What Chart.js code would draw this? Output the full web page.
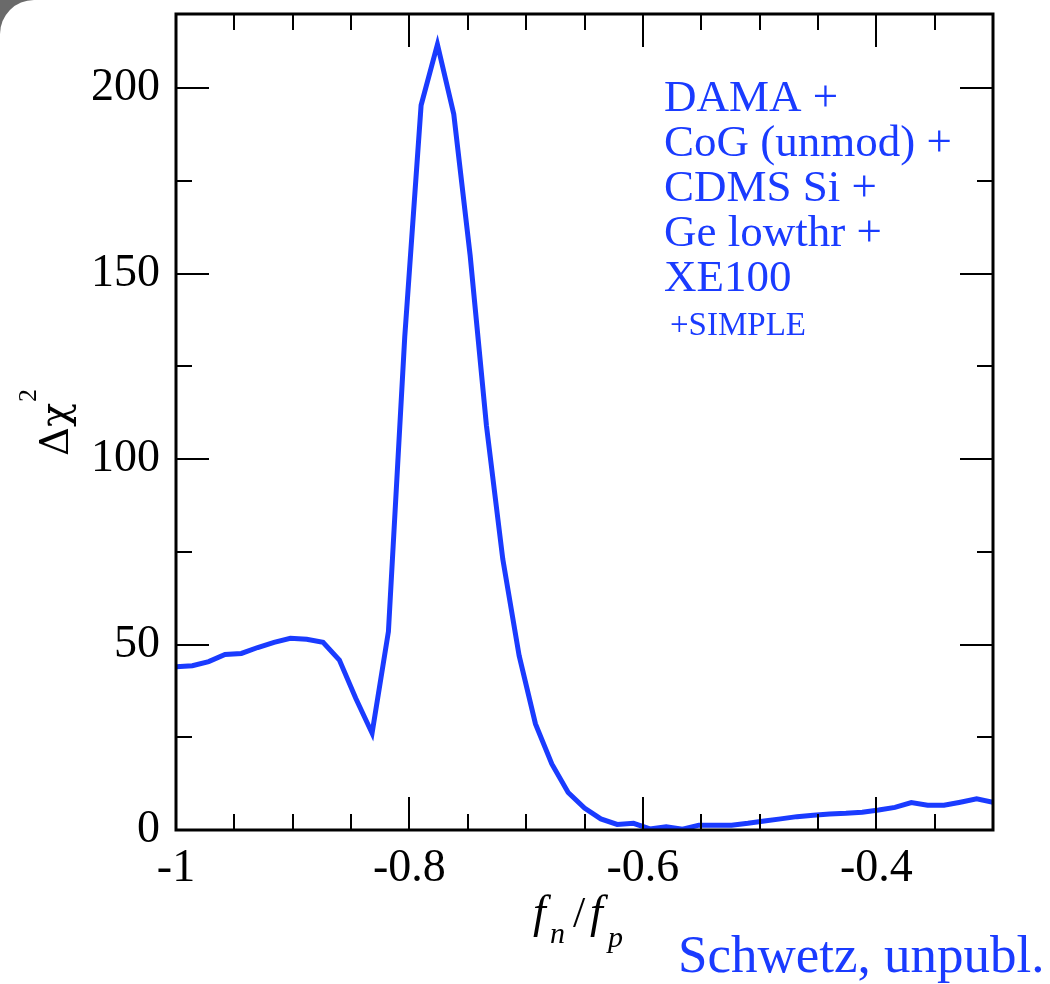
<!DOCTYPE html>
<html>
<head>
<meta charset="utf-8">
<title>Delta chi2 vs fn/fp</title>
<script src="https://cdn.jsdelivr.net/npm/chart.js@4"></script>
<style>
  html, body { margin: 0; padding: 0; }
  body { width: 1050px; height: 984px; overflow: hidden; position: relative; background: #6a6a6a; }
  #page { position: absolute; left: 0; top: 0; width: 1100px; height: 1040px; background: #fff; border-top-left-radius: 34px; }
  #c { position: absolute; left: 0; top: 0; }
</style>
</head>
<body>
<div id="page"></div>
<canvas id="c" width="1050" height="984"></canvas>
<script>
// f_n / f_p scan points
const fnOverFp = [
  -1, -0.986, -0.972, -0.958, -0.944, -0.93, -0.916, -0.902, -0.888, -0.874,
  -0.86, -0.846, -0.832, -0.818, -0.804, -0.79, -0.776, -0.762, -0.748, -0.734,
  -0.72, -0.706, -0.692, -0.678, -0.664, -0.65, -0.636, -0.622, -0.608, -0.594,
  -0.58, -0.566, -0.552, -0.538, -0.524, -0.51, -0.496, -0.482, -0.468, -0.454,
  -0.44, -0.426, -0.412, -0.398, -0.384, -0.37, -0.356, -0.342, -0.328, -0.314,
  -0.3
];

// combined Delta chi^2 at each point
const deltaChi2 = [
  44.0, 44.3, 45.4, 47.3, 47.6, 49.2, 50.6, 51.7, 51.4, 50.6,
  45.8, 35.5, 26.1, 53.5, 133, 195.4, 211.8, 193, 155, 109,
  73, 47, 28.6, 17.8, 10.1, 5.9, 3.0, 1.5, 1.8, 0.3,
  0.9, 0.2, 1.3, 1.3, 1.3, 1.8, 2.4, 3.0, 3.6, 4.0,
  4.3, 4.5, 4.8, 5.4, 6.1, 7.4, 6.7, 6.7, 7.5, 8.4,
  7.5
];

const xTicks = [-1, -0.8, -0.6, -0.4];
const yTicks = [0, 50, 100, 150, 200];

const fitLabels = ['DAMA +', 'CoG (unmod) +', 'CDMS Si +', 'Ge lowthr +', 'XE100'];
const fitExtra = '+SIMPLE';
const creditText = 'Schwetz, unpubl.';

const BLUE = '#1a3bff';
const SERIF = '"Liberation Serif", "DejaVu Serif", serif';
const GREEK = '"DejaVu Serif", serif';

// box, inward ticks on all four sides, axis titles and the text block
const framePlugin = {
  id: 'frame',
  afterDraw(chart) {
    const { ctx, chartArea: a, scales: { x, y } } = chart;
    ctx.save();

    ctx.strokeStyle = '#000';
    ctx.lineWidth = 2;
    ctx.beginPath();
    for (let i = 0; i <= 14; i++) {
      const v = -1 + i * 0.05;
      const major = i % 4 === 0;
      const len = major ? 33 : 16;
      const px = Math.round(x.getPixelForValue(v));
      ctx.moveTo(px, a.bottom); ctx.lineTo(px, a.bottom - len);
      ctx.moveTo(px, a.top); ctx.lineTo(px, a.top + len);
    }
    for (let i = 0; i <= 8; i++) {
      const v = i * 25;
      const major = i % 2 === 0;
      const len = major ? 33 : 16;
      const py = Math.round(y.getPixelForValue(v));
      ctx.moveTo(a.left, py); ctx.lineTo(a.left + len, py);
      ctx.moveTo(a.right, py); ctx.lineTo(a.right - len, py);
    }
    ctx.stroke();

    ctx.lineWidth = 3;
    ctx.strokeRect(a.left, a.top, a.right - a.left, a.bottom - a.top);

    // y title: Delta chi^2, rotated
    ctx.fillStyle = '#000';
    ctx.save();
    ctx.translate(68, 456);
    ctx.rotate(-Math.PI / 2);
    ctx.textAlign = 'left';
    ctx.textBaseline = 'alphabetic';
    ctx.font = '40px ' + GREEK;
    ctx.fillText('\u0394\u03c7', 0, 0);
    const w = ctx.measureText('\u0394\u03c7').width;
    ctx.font = '26px ' + SERIF;
    ctx.fillText('2', w + 1, -32);
    ctx.restore();

    // x title: f_n / f_p
    ctx.textAlign = 'left';
    ctx.textBaseline = 'alphabetic';
    ctx.font = 'italic 46px ' + SERIF;
    ctx.fillText('f', 533, 927);
    ctx.font = 'italic 30px ' + SERIF;
    ctx.fillText('n', 550, 943);
    ctx.font = '44px ' + SERIF;
    ctx.fillText('/', 573, 927);
    ctx.font = 'italic 46px ' + SERIF;
    ctx.fillText('f', 590, 927);
    ctx.font = 'italic 30px ' + SERIF;
    ctx.fillText('p', 608, 947);

    // combined data sets
    ctx.fillStyle = BLUE;
    ctx.font = '45px ' + SERIF;
    fitLabels.forEach((t, i) => ctx.fillText(t, 664, 111 + 45 * i));
    ctx.font = '33px ' + SERIF;
    ctx.fillText(fitExtra, 670, 335);

    ctx.font = '53px ' + SERIF;
    ctx.fillText(creditText, 678, 972);

    ctx.restore();
  }
};

const tickFont = { family: SERIF, size: 46 };

new Chart(document.getElementById('c'), {
  type: 'line',
  data: {
    datasets: [{
      data: fnOverFp.map((v, i) => ({ x: v, y: deltaChi2[i] })),
      borderColor: BLUE,
      borderWidth: 5,
      borderJoinStyle: 'miter',
      pointRadius: 0,
      tension: 0,
      fill: false
    }]
  },
  options: {
    responsive: false,
    animation: false,
    layout: { padding: { top: 14, right: 57, left: 0, bottom: 0 } },
    plugins: { legend: { display: false }, tooltip: { enabled: false } },
    scales: {
      x: {
        type: 'linear',
        min: -1,
        max: -0.3,
        afterBuildTicks(s) { s.ticks = xTicks.map(v => ({ value: v })); },
        afterFit(s) { s.height = 154; s.paddingLeft = 0; s.paddingRight = 0; },
        grid: { display: false, drawTicks: false },
        border: { display: false },
        ticks: {
          color: '#000', font: tickFont, padding: 11, maxRotation: 0, autoSkip: false,
          callback: v => String(v)
        }
      },
      y: {
        type: 'linear',
        min: 0,
        max: 220,
        afterBuildTicks(s) { s.ticks = yTicks.map(v => ({ value: v })); },
        afterFit(s) { s.width = 176; s.paddingTop = 0; s.paddingBottom = 0; },
        grid: { display: false, drawTicks: false },
        border: { display: false },
        ticks: { color: '#000', font: tickFont, padding: 16, autoSkip: false }
      }
    }
  },
  plugins: [framePlugin]
});
</script>
</body>
</html>
